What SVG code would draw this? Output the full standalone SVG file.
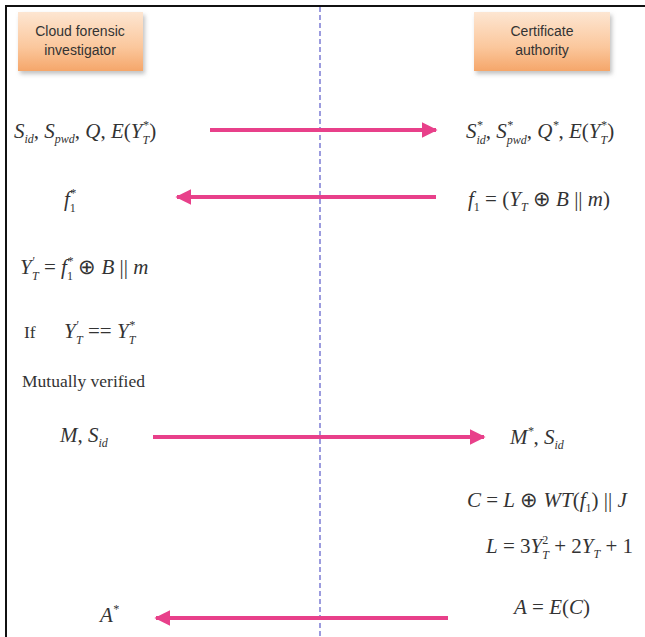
<svg xmlns="http://www.w3.org/2000/svg" width="645" height="637" viewBox="0 0 645 637">
<defs>
<linearGradient id="boxg" x1="0" y1="0" x2="0" y2="1">
<stop offset="0" stop-color="#fde6d2"/>
<stop offset="0.6" stop-color="#fbc79c"/>
<stop offset="1" stop-color="#f5a66a"/>
</linearGradient>
<filter id="sh" x="-10%" y="-10%" width="130%" height="140%">
<feDropShadow dx="2" dy="3" stdDeviation="2" flood-color="#999" flood-opacity="0.6"/>
</filter>
<marker id="ah" viewBox="0 0 10 10" refX="9" refY="5" markerWidth="4" markerHeight="4" orient="auto" markerUnits="strokeWidth">
<path d="M0,0 L10,5 L0,10 z" fill="#e8408a"/>
</marker>
</defs>
<style>
.box{fill:url(#boxg);filter:url(#sh)}
.lbl{font-family:"Liberation Sans",Arial,sans-serif;font-size:14px;fill:#333;text-anchor:middle}
.m{font-family:"Liberation Serif","Times New Roman",serif;font-size:21px;font-style:italic;fill:#333}
.r{font-style:normal}
.s{font-size:12px}
.t{font-family:"Liberation Serif","Times New Roman",serif;font-size:17.5px;fill:#333}
.arr{stroke:#e8408a;stroke-width:4;fill:none;marker-end:url(#ah)}
</style>
<rect width="645" height="637" fill="#fff"/>
<path d="M6,637 V6 H645" fill="none" stroke="#111" stroke-width="2"/>
<line x1="320" y1="7" x2="320" y2="637" stroke="#5a5ac8" stroke-width="1.2" stroke-dasharray="5,3"/>

<g id="cloud-forensic-investigator">
<rect class="box" x="18" y="12" width="125" height="59"/>
<text class="lbl" x="80" y="36">Cloud forensic</text>
<text class="lbl" x="80" y="55">investigator</text>
</g>
<g id="certificate-authority">
<rect class="box" x="474" y="12" width="136" height="59"/>
<text class="lbl" x="542" y="36">Certificate</text>
<text class="lbl" x="542" y="55">authority</text>
</g>

<g id="connectors">
<line class="arr" x1="210" y1="130" x2="436" y2="130"/>
<line class="arr" x1="436" y1="197" x2="177" y2="197"/>
<line class="arr" x1="153" y1="437" x2="484" y2="437"/>
<line class="arr" x1="448" y1="618" x2="156" y2="618"/>
</g>

<g id="msg1-left">
<text class="m" x="14" y="138">S<tspan class="s" dy="5">id</tspan><tspan class="r" dy="-5">, </tspan>S<tspan class="s" dy="5">pwd</tspan><tspan class="r" dy="-5">, </tspan>Q<tspan class="r">, </tspan>E<tspan class="r">(</tspan>Y<tspan class="s" dy="-9">*</tspan><tspan class="s" dx="-6" dy="15">T</tspan><tspan class="r" dy="-6">)</tspan></text>
</g>
<g id="msg1-right">
<text class="m" x="466" y="138">S<tspan class="s" dy="-9">*</tspan><tspan class="s" dx="-6" dy="15">id</tspan><tspan class="r" dy="-6">, </tspan>S<tspan class="s" dy="-9">*</tspan><tspan class="s" dx="-6" dy="15">pwd</tspan><tspan class="r" dy="-6">, </tspan>Q<tspan class="s" dy="-9">*</tspan><tspan class="r" dy="9">, </tspan>E<tspan class="r">(</tspan>Y<tspan class="s" dy="-9">*</tspan><tspan class="s" dx="-6" dy="15">T</tspan><tspan class="r" dy="-6">)</tspan></text>
</g>
<g id="msg2-left">
<text class="m" x="64" y="206">f<tspan class="s" dy="-9">*</tspan><tspan class="s r" dx="-6" dy="15">1</tspan></text>
</g>
<g id="msg2-right">
<text class="m" x="468" y="206">f<tspan class="s r" dy="5">1</tspan><tspan class="r" dy="-5"> = (</tspan>Y<tspan class="s" dy="5">T</tspan><tspan class="r" dy="-5"> ⊕ </tspan>B<tspan class="r"> || </tspan>m<tspan class="r">)</tspan></text>
</g>
<g id="step-verify">
<text class="m" x="20" y="274">Y<tspan class="s" dy="-9">'</tspan><tspan class="s" dx="-2.2" dy="15">T</tspan><tspan class="r" dy="-6"> = </tspan>f<tspan class="s" dy="-9">*</tspan><tspan class="s r" dx="-6" dy="15">1</tspan><tspan class="r" dy="-6"> ⊕ </tspan>B<tspan class="r"> || </tspan>m</text>
</g>
<g id="step-if">
<text class="t" x="24" y="338">If</text>
<text class="m" x="64" y="338">Y<tspan class="s" dy="-9">'</tspan><tspan class="s" dx="-2.2" dy="15">T</tspan><tspan class="r" dy="-6"> == </tspan>Y<tspan class="s" dy="-9">*</tspan><tspan class="s" dx="-6" dy="15">T</tspan></text>
</g>
<g id="step-mutual">
<text class="t" x="22" y="387">Mutually verified</text>
</g>
<g id="msg3-left">
<text class="m" x="60" y="442">M<tspan class="r">, </tspan>S<tspan class="s" dy="5">id</tspan></text>
</g>
<g id="msg3-right">
<text class="m" x="510" y="444">M<tspan class="s" dy="-9">*</tspan><tspan class="r" dy="9">, </tspan>S<tspan class="s" dy="5">id</tspan></text>
</g>
<g id="calc-c">
<text class="m" x="467" y="507">C<tspan class="r"> = </tspan>L<tspan class="r"> ⊕ </tspan>WT<tspan class="r">(</tspan>f<tspan class="s r" dy="5">1</tspan><tspan class="r" dy="-5">) || </tspan>J</text>
</g>
<g id="calc-l">
<text class="m" x="486" y="553">L<tspan class="r"> = 3</tspan>Y<tspan class="s r" dy="-9">2</tspan><tspan class="s" dx="-6" dy="15">T</tspan><tspan class="r" dy="-6"> + 2</tspan>Y<tspan class="s" dy="5">T</tspan><tspan class="r" dy="-5"> + 1</tspan></text>
</g>
<g id="calc-a">
<text class="m" x="514" y="614">A<tspan class="r"> = </tspan>E<tspan class="r">(</tspan>C<tspan class="r">)</tspan></text>
</g>
<g id="msg4-left">
<text class="m" x="100" y="622">A<tspan class="s" dy="-9">*</tspan></text>
</g>
</svg>
